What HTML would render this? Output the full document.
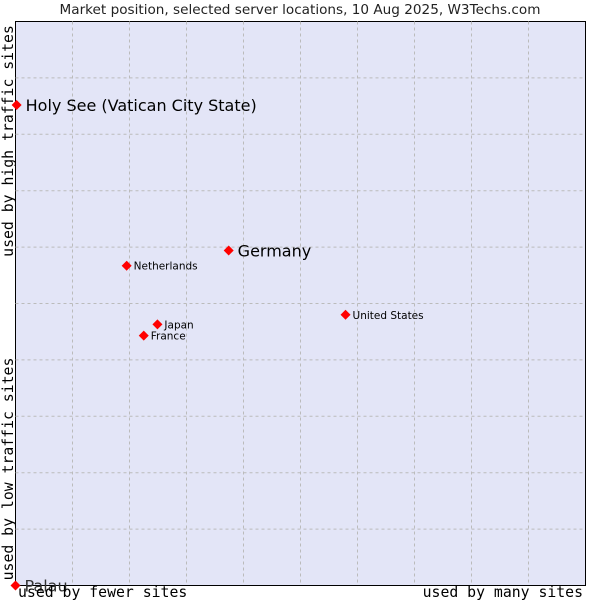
<!DOCTYPE html>
<html><head><meta charset="utf-8"><style>
body{margin:0;background:#fff;}
svg{display:block;font-family:"DejaVu Sans","Liberation Sans",sans-serif;}
.mono{font-family:"DejaVu Sans Mono","Liberation Mono",monospace;font-size:14.8px;fill:#000;}
</style></head><body>
<svg id="chart" width="600" height="600">
<text x="300" y="14" text-anchor="middle" font-size="13.6" fill="#222">Market position, selected server locations, 10 Aug 2025, W3Techs.com</text>
<rect x="15.5" y="21.5" width="570" height="564" fill="#e3e5f7" stroke="#000"/>
<g id="grid"></g>
<g id="points"></g>
<text class="mono" x="18" y="597">used by fewer sites</text>
<text class="mono" x="583" y="597" text-anchor="end">used by many sites</text>
<text class="mono" transform="translate(13,141) rotate(-90)" text-anchor="middle">used by high traffic sites</text>
<text class="mono" transform="translate(13,469) rotate(-90)" text-anchor="middle">used by low traffic sites</text>
</svg>
<script>
const names = ["Holy See (Vatican City State)","Germany","Netherlands","United States","Japan","France","Palau"];
const xVals = [0.2,37.4,19.5,57.9,24.9,22.5,0];
const yVals = [85.2,59.4,56.7,48.0,46.3,44.3,0];
const big = [true,true,false,false,false,false,true];
const X0=15.5,X1=585.5,Y0=585.5,Y1=21.5;
const sx=v=>X0+(X1-X0)*v/100;
const sy=v=>Y0-(Y0-Y1)*v/100;
const NS="http://www.w3.org/2000/svg";
const grid=document.getElementById('grid');
for(let i=1;i<10;i++){
  const v=document.createElementNS(NS,'line');
  
  
  v.setAttribute('x1',sx(i*10));v.setAttribute('x2',sx(i*10));v.setAttribute('y1',Y1);v.setAttribute('y2',Y0);
  v.setAttribute('stroke','#bbb');v.setAttribute('stroke-dasharray','3,3');grid.appendChild(v);
  const h=document.createElementNS(NS,'line');
  
  
  h.setAttribute('y1',sy(i*10));h.setAttribute('y2',sy(i*10));h.setAttribute('x1',X0);h.setAttribute('x2',X1);
  h.setAttribute('stroke','#bbb');h.setAttribute('stroke-dasharray','3,3');grid.appendChild(h);
}
const pts=document.getElementById('points');
names.forEach((n,i)=>{
  const x=sx(xVals[i]),y=sy(yVals[i]);
  const d=document.createElementNS(NS,'path');
  
  
  d.setAttribute('d',`M${x-5},${y}L${x},${y-5}L${x+5},${y}L${x},${y+5}Z`);
  d.setAttribute('fill','#f00');pts.appendChild(d);
  const t=document.createElementNS(NS,'text');
  
  
  t.setAttribute('x',x+(big[i]?9:7));t.setAttribute('y',y+(big[i]?6:4));
  t.setAttribute('font-size',big[i]?'16':'10.5');t.setAttribute('fill',i==6?'#333':'#000');
  t.textContent=n;pts.appendChild(t);
});
</script>
</body></html>
